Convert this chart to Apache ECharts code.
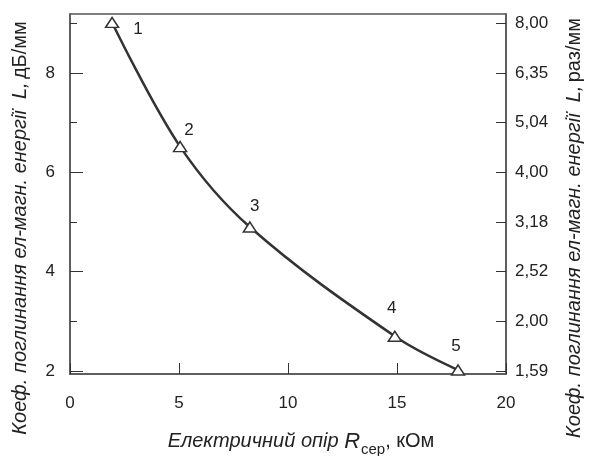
<!DOCTYPE html>
<html>
<head>
<meta charset="utf-8">
<script src="https://cdn.jsdelivr.net/npm/echarts@6/dist/echarts.min.js"></script>
<style>
  html, body { margin: 0; padding: 0; background: #fff; }
  #chart { width: 592px; height: 456px; }
</style>
</head>
<body>
<div id="chart"></div>
<script>
// опір, кОм
const resistance = [1.93, 5.05, 8.25, 14.9, 17.8]
// коеф. поглинання, дБ/мм
const absorption = [9.02, 6.52, 4.9, 2.7, 2.02]
const pointNames = ['1', '2', '3', '4', '5']

const leftMajorTicks = [2, 4, 6, 8]
const leftMinorTicks = [3, 5, 7, 9]
const rightTicks = [2, 3, 4, 5, 6, 7, 8, 9]
const rightTickLabels = ['1,59', '2,00', '2,52', '3,18', '4,00', '5,04', '6,35', '8,00']

const labelOffsets = [[26, 7], [9, -16], [5, -21], [-3, -28], [-2, -24]]

const font = 'Liberation Sans, Arial, sans-serif'
const axisColor = '#555'
const textColor = '#222'

const chart = echarts.init(document.getElementById('chart'))

const titleRich = {
  i: { fontFamily: font, fontSize: 20, fontStyle: 'italic', fill: textColor },
  n: { fontFamily: font, fontSize: 20, fill: textColor }
}

const xTitleRich = {
  i: { fontFamily: font, fontSize: 20, fontStyle: 'italic', fill: textColor, lineHeight: 26, verticalAlign: 'top' },
  r: { fontFamily: font, fontSize: 22, fontStyle: 'italic', fill: textColor, lineHeight: 26, verticalAlign: 'top' },
  s: { fontFamily: font, fontSize: 15, fill: textColor, lineHeight: 26, verticalAlign: 'bottom', padding: [13, 0, 0, 1] },
  n: { fontFamily: font, fontSize: 20, fill: textColor, lineHeight: 26, verticalAlign: 'top' }
}

const option = {
  animation: false,
  grid: {
    left: 70, right: 86, top: 14, bottom: 82,
    show: true, borderColor: axisColor, borderWidth: 1.5,
    containLabel: false,
    outerBoundsMode: 'none'
  },
  graphic: [
    {
      type: 'text', x: 20, y: 228, rotation: Math.PI / 2,
      style: {
        text: '{i|Коеф. поглинання ел-магн. енергії  L,} {n|дБ/мм}',
        rich: titleRich, align: 'center', verticalAlign: 'middle'
      }
    },
    {
      type: 'text', x: 574, y: 228, rotation: Math.PI / 2,
      style: {
        text: '{i|Коеф. поглинання ел-магн. енергії  L,} {n|раз/мм}',
        rich: titleRich, align: 'center', verticalAlign: 'middle'
      }
    },
    {
      type: 'text', x: 301, y: 444,
      style: {
        text: '{i|Електричний опір }{r|R}{s|сер}{n|, кОм}',
        rich: xTitleRich, align: 'center', verticalAlign: 'middle'
      }
    }
  ],
  xAxis: {
    type: 'value',
    min: 0, max: 20, interval: 5,
    splitLine: { show: false },
    axisLine: { lineStyle: { color: axisColor, width: 1.5 } },
    axisTick: { inside: true, length: 11, lineStyle: { color: '#333', width: 1 } },
    axisLabel: { margin: 21, fontSize: 17, fontFamily: font, color: textColor }
  },
  yAxis: [
    {
      type: 'value',
      position: 'left',
      min: 1.94, max: 9.19,
      splitLine: { show: false },
      axisLine: { show: true, lineStyle: { color: axisColor, width: 1.5 } },
      axisTick: { inside: true, length: 13, customValues: leftMajorTicks, lineStyle: { color: '#333' } },
      axisLabel: { customValues: leftMajorTicks, margin: 15, fontSize: 17, fontFamily: font, color: textColor }
    },
    {
      type: 'value',
      position: 'left',
      min: 1.94, max: 9.19,
      splitLine: { show: false },
      axisLine: { show: false },
      axisTick: { inside: true, length: 7, customValues: leftMinorTicks, lineStyle: { color: '#333' } },
      axisLabel: { show: false }
    },
    {
      type: 'value',
      position: 'right',
      min: 1.94, max: 9.19,
      splitLine: { show: false },
      axisLine: { show: true, lineStyle: { color: axisColor, width: 1.5 } },
      axisTick: { inside: true, length: 10, customValues: rightTicks, lineStyle: { color: '#333' } },
      axisLabel: {
        customValues: rightTicks,
        margin: 9, fontSize: 17, fontFamily: font, color: textColor,
        formatter: v => rightTickLabels[rightTicks.indexOf(Math.round(v))]
      }
    }
  ],
  series: [
    {
      type: 'line',
      yAxisIndex: 0,
      smooth: 0.35,
      symbol: 'triangle',
      symbolSize: [13, 10],
      lineStyle: { color: '#333', width: 2.5 },
      itemStyle: { color: '#fff', borderColor: '#333', borderWidth: 1.5 },
      label: {
        show: true,
        position: 'inside',
        fontFamily: font,
        fontSize: 17,
        color: textColor,
        formatter: p => pointNames[p.dataIndex]
      },
      data: resistance.map((x, i) => ({
        value: [x, absorption[i]],
        label: { offset: labelOffsets[i] }
      }))
    }
  ]
}

chart.setOption(option)
</script>
</body>
</html>
